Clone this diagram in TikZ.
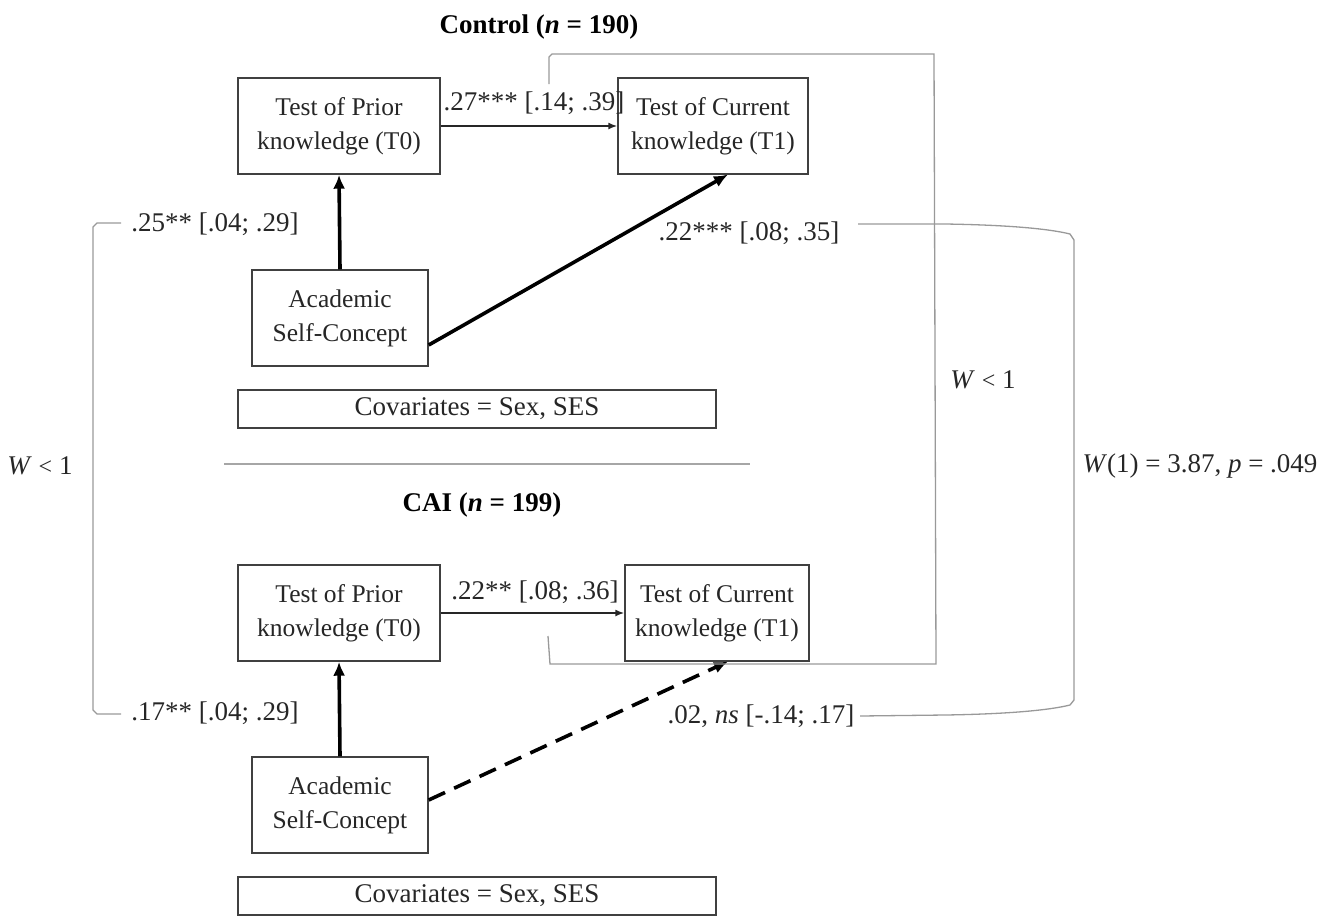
\documentclass[tikz,border=0pt]{standalone}
\usepackage{fontspec}
\setmainfont{Liberation Serif}
\usetikzlibrary{arrows.meta}
\begin{document}
\begin{tikzpicture}[x=1pt,y=-1pt,
  txt/.style={font=\fontsize{27}{34}\selectfont, text=black!85, inner sep=0pt, align=center},
  btxt/.style={font=\fontsize{25.5}{34}\selectfont, text=black!85, inner sep=0pt, align=center},
  box/.style={btxt, draw=black!75, line width=1.4pt, minimum width=#1, minimum height=96},
  covbox/.style={txt, draw=black!75, line width=1.4pt, minimum width=478, minimum height=38},
  thin/.style={draw=black!85, line width=1.6pt, -{Latex[length=9pt,width=7pt]}},
  thick/.style={draw=black, line width=3.6pt, -{Latex[length=14pt,width=12pt]}},
  brk/.style={draw=black!40, line width=1.3pt},
  title/.style={font=\fontsize{27}{30}\selectfont\bfseries, inner sep=0pt}]
\useasboundingbox (0,0) rectangle (1338,916);

% Control group
\node[title] (ctl) at (539,27) {Control (\textit{n} = 190)};
\node[box=202] (t0a) at (339,126) {Test of Prior\\knowledge (T0)};
\node[box=190] (t1a) at (713,126) {Test of Current\\knowledge (T1)};
\node[box=176] (asca) at (340,318) {Academic\\Self-Concept};
\node[covbox] (cova) at (477,409) {Covariates = Sex, SES};
\draw[thin] (t0a.east) -- (t1a.west);
\node[txt] (la) at (534,103) {.27*** [.14; .39]};
\draw[thick] (asca.north) -- (t0a.south);
\draw[thick] (asca.east |- 0,345) coordinate (asa) -- (728,174.5) coordinate (ta);
\node[txt] (lb) at (215,224) {.25** [.04; .29]};
\node[txt] (lc) at (749,233) {.22*** [.08; .35]};

% separator
\coordinate (s1) at (224,464);
\coordinate (s2) at (750,464);
\draw[draw=black!35, line width=1.4pt] (s1) -- (s2);

% CAI group
\node[title] (cai) at (482,505) {CAI (\textit{n} = 199)};
\node[box=202] (t0b) at (339,613) {Test of Prior\\knowledge (T0)};
\node[box=184] (t1b) at (717,613) {Test of Current\\knowledge (T1)};
\node[box=176] (ascb) at (340,805) {Academic\\Self-Concept};
\node[covbox] (covb) at (477,896) {Covariates = Sex, SES};
\draw[thin] (t0b.east) -- (t1b.west);
\node[txt] (ld) at (535,592) {.22** [.08; .36]};
\draw[thick] (ascb.north) -- (t0b.south);
\draw[thick, dashed, dash pattern=on 18pt off 10pt] (ascb.east |- 0,800) -- (728,661.5);
\node[txt] (le) at (215,713) {.17** [.04; .29]};
\node[txt] (lf) at (761,716) {.02, \textit{ns} [-.14; .17]};

% comparison labels
\node[txt] (w1) at (40,466) {\textit{W} {\fontsize{24}{28}\selectfont<} 1};
\node[txt] (w2) at (983,380) {\textit{W} {\fontsize{24}{28}\selectfont<} 1};
\node[txt] (w3) at (1200,466) {\textit{W}(1) = 3.87, \textit{p} = .049};

% brackets
\coordinate (rb1) at (858,224);
\coordinate (rb2) at (860,716);
\draw[brk] ([xshift=-10pt]lb.west |- 0,223) -- (97,223) -- (93,227) -- (93,710) -- (97,714) -- ([xshift=-10pt]le.west |- 0,714);
\draw[brk] (549,84) -- (549,57) -- (552,54) -- (934,54) -- (936,664) -- (550,664) -- (548,636);
\draw[brk] (rb1) -- (945,224) .. controls (1010,225) and (1050,229) .. (1070,234) -- (1074,240) -- (1074,700) -- (1070,705) .. controls (1050,710) and (1010,714) .. (945,715) -- (rb2);
\end{tikzpicture}
\end{document}
